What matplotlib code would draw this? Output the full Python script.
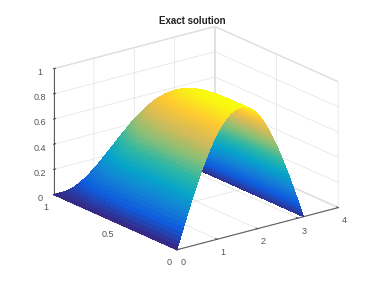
import matplotlib
matplotlib.use("Agg")
import matplotlib.pyplot as plt
import numpy as np
from matplotlib.colors import LinearSegmentedColormap

plt.rcParams['font.family'] = ['Liberation Sans', 'DejaVu Sans']

title = "Exact solution"
x_ticks = [0, 1, 2, 3, 4]
y_ticks = [0, 0.5, 1]
z_ticks = [0, 0.2, 0.4, 0.6, 0.8, 1]
y_tick_labels = ["0", "0.5", "1"]
z_tick_labels = ["0", "0.2", "0.4", "0.6", "0.8", "1"]

# rising half of the arch, read from the front edge; the falling half mirrors it
x_half = [0.0, 0.0327, 0.0654, 0.0982, 0.1309, 0.1636, 0.1963, 0.2291, 0.2618, 0.2945, 0.3272, 0.36, 0.3927,
          0.4254, 0.4581, 0.4909, 0.5236, 0.5563, 0.589, 0.6218, 0.6545, 0.6872, 0.7199, 0.7527, 0.7854,
          0.8181, 0.8508, 0.8836, 0.9163, 0.949, 0.9817, 1.0145, 1.0472, 1.0799, 1.1126, 1.1454, 1.1781,
          1.2108, 1.2435, 1.2763, 1.309, 1.3417, 1.3744, 1.4072, 1.4399, 1.4726, 1.5053, 1.5381, 1.5708]
profile_half = [0.0, 0.0327, 0.0654, 0.098, 0.1305, 0.1629, 0.1951, 0.2271, 0.2588, 0.2903, 0.3214, 0.3523, 0.3827,
                0.4127, 0.4423, 0.4714, 0.5, 0.5281, 0.5556, 0.5825, 0.6088, 0.6344, 0.6593, 0.6836, 0.7071,
                0.7299, 0.7518, 0.773, 0.7934, 0.8131, 0.8315, 0.8492, 0.866, 0.8819, 0.8969, 0.9107, 0.9239,
                0.9359, 0.9469, 0.9569, 0.9659, 0.9739, 0.9808, 0.9866, 0.9914, 0.9952, 0.9979, 0.9995, 1.0]
x_vals = x_half + [3.1416 - v for v in reversed(x_half[:-1])]
x_profile = profile_half + profile_half[-2::-1]

y_vals = [0.0, 0.025, 0.05, 0.075, 0.1, 0.125, 0.15, 0.175, 0.2, 0.225, 0.25, 0.275, 0.3, 0.325, 0.35, 0.375, 0.4, 0.425, 0.45, 0.475,
          0.5, 0.525, 0.55, 0.575, 0.6, 0.6125, 0.625, 0.6375, 0.65, 0.6625, 0.675, 0.6875, 0.7, 0.7125, 0.725, 0.7375, 0.75, 0.7625,
          0.775, 0.7875, 0.8, 0.8125, 0.825, 0.8375, 0.85, 0.8625, 0.875, 0.8875, 0.9, 0.9125, 0.925, 0.9375, 0.95, 0.9625, 0.975, 0.9875, 1.0]
y_profile = [1.0, 1.0, 1.0, 1.0, 1.0, 0.999, 0.999, 0.999, 0.998, 0.997, 0.995, 0.993, 0.99, 0.986, 0.982, 0.976, 0.969, 0.96, 0.95, 0.938,
             0.924, 0.908, 0.889, 0.868, 0.844, 0.831, 0.818, 0.803, 0.788, 0.772, 0.755, 0.737, 0.718, 0.699, 0.678, 0.657, 0.634, 0.611,
             0.586, 0.562, 0.536, 0.509, 0.48, 0.452, 0.422, 0.391, 0.36, 0.328, 0.294, 0.26, 0.225, 0.189, 0.152, 0.115, 0.078, 0.039, 0.0]

parula_colors = ["#352a87", "#0f5cdd", "#1481d6", "#06a4ca", "#2eb7a4", "#87bf77", "#d1bb59", "#fec832", "#f9fb0e"]
parula = LinearSegmentedColormap.from_list("parula", parula_colors, N=256)

fig = plt.figure(figsize=(3.88, 2.84), dpi=100, facecolor="white")
ax = fig.add_axes([-0.005, 0.0, 1.0, 1.0], projection="3d", proj_type="ortho")
ax.view_init(elev=20, azim=-127.4)
ax.set_box_aspect((1, 1, 0.66), zoom=1.083)
ax.set_xlim(0, 4, view_margin=0)
ax.set_ylim(0, 1, view_margin=0)
ax.set_zlim(0, 1, view_margin=0)

X, Y = np.meshgrid(x_vals, y_vals)
Z = np.outer(y_profile, x_profile)
fc = parula(Z / Z.max())
ax.plot_surface(X, Y, Z, facecolors=fc, rstride=1, cstride=1, shade=False, linewidth=0, antialiased=False)

ax.set_xticks(x_ticks)
ax.set_yticks(y_ticks)
ax.set_yticklabels(y_tick_labels)
ax.set_zticks(z_ticks)
ax.set_zticklabels(z_tick_labels)
ax.tick_params(labelsize=6.5, colors="#555555", pad=-3)
for axis in (ax.xaxis, ax.yaxis, ax.zaxis):
    axis.set_pane_color((1, 1, 1, 1))
    axis.pane.set_edgecolor("#dcdcdc")
    axis.line.set_color("#555555")
    axis.line.set_linewidth(0.7)
    axis._axinfo["grid"].update(color="#e2e2e2", linewidth=0.5)
    axis._axinfo["tick"].update(inward_factor=0.0, outward_factor=0.15)
ax.set_title(title, fontsize=7, fontweight="bold", color="#222222", y=0.965)
fig.savefig("out.png", dpi=100)
